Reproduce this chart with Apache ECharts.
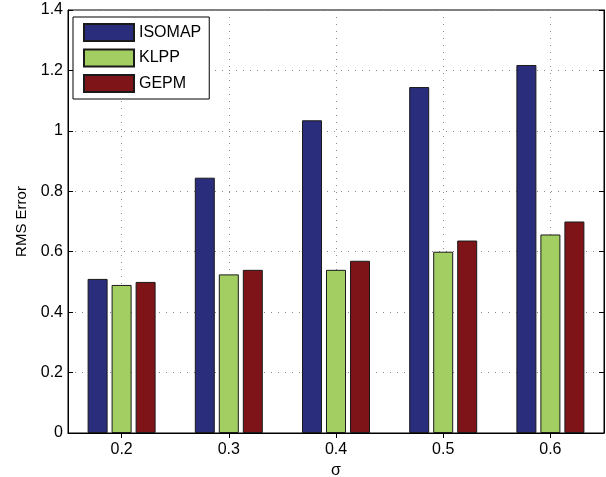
<!DOCTYPE html>
<html>
<head>
<meta charset="utf-8">
<script src="https://cdn.jsdelivr.net/npm/echarts@6/dist/echarts.min.js"></script>
<style>
  html, body { margin: 0; padding: 0; background: #fff; }
  #chart { width: 606px; height: 477px; }
</style>
</head>
<body>
<div id="chart"></div>
<script>
// Noise levels along the x axis
const sigmaLabels = ['0.2', '0.3', '0.4', '0.5', '0.6'];

// RMS error of each embedding method
const isomap = [0.51, 0.845, 1.035, 1.145, 1.218];
const klpp   = [0.49, 0.525, 0.54, 0.60, 0.657];
const gepm   = [0.50, 0.54, 0.57, 0.637, 0.70];

const FONT = 'Liberation Sans, Arial, Helvetica, sans-serif';
const gridDots = { color: '#8a8a8a', width: 1, type: [1, 6] };

// Top axis: half-step positions so ticks/grid land on category centres
const halfSteps = [];
for (let i = 0; i <= sigmaLabels.length * 2; i++) halfSteps.push('');
const atCentre = (idx) => idx % 2 === 1;

const barStyle = (color) => ({ color: color, borderColor: '#1a1a1a', borderWidth: 1 });

const chart = echarts.init(document.getElementById('chart'), null, { renderer: 'canvas' });
chart.setOption({
  animation: false,
  backgroundColor: '#fff',
  textStyle: { fontFamily: FONT },
  grid: {
    left: 68, right: 2, top: 10, bottom: 44,
    outerBoundsMode: 'none',
    containLabel: false,
    show: true, borderColor: '#000', borderWidth: 1, backgroundColor: 'transparent'
  },
  legend: {
    orient: 'vertical',
    left: 73, top: 17,
    itemWidth: 50, itemHeight: 17, itemGap: 6.5,
    padding: [6, 8, 6, 10],
    backgroundColor: '#fff',
    borderColor: '#000', borderWidth: 1,
    textStyle: { fontFamily: FONT, fontSize: 16, color: '#000' },
    icon: 'rect',
    data: ['ISOMAP', 'KLPP', 'GEPM']
  },
  xAxis: [
    {
      type: 'category',
      data: sigmaLabels,
      position: 'bottom',
      name: 'σ',
      nameLocation: 'middle',
      nameGap: 24,
      nameTextStyle: { fontFamily: FONT, fontSize: 16, color: '#000' },
      axisLine: { lineStyle: { color: '#000', width: 1 } },
      axisTick: { show: false },
      axisLabel: { fontFamily: FONT, fontSize: 16, color: '#000', margin: 9 },
      splitLine: { show: false }
    },
    {
      type: 'category',
      data: halfSteps,
      position: 'top',
      boundaryGap: false,
      axisLine: { show: false },
      axisTick: { show: true, inside: true, length: 5, interval: atCentre, lineStyle: { color: '#000' } },
      axisLabel: { show: false },
      splitLine: { show: true, interval: atCentre, lineStyle: gridDots }
    },
    {
      type: 'category',
      data: halfSteps,
      position: 'bottom',
      boundaryGap: false,
      axisLine: { show: false },
      axisTick: { show: true, inside: true, length: 5, interval: atCentre, lineStyle: { color: '#000' } },
      axisLabel: { show: false },
      splitLine: { show: false }
    }
  ],
  yAxis: [
    {
      type: 'value',
      min: 0, max: 1.4, interval: 0.2,
      position: 'left',
      name: 'RMS Error',
      nameLocation: 'middle',
      nameGap: 31,
      nameTextStyle: { fontFamily: FONT, fontSize: 15, color: '#000' },
      axisLine: { show: true, lineStyle: { color: '#000', width: 1 } },
      axisTick: { show: true, inside: true, length: 5, lineStyle: { color: '#000' } },
      axisLabel: { fontFamily: FONT, fontSize: 16, color: '#000', margin: 5 },
      splitLine: { show: true, lineStyle: gridDots }
    },
    {
      type: 'value',
      min: 0, max: 1.4, interval: 0.2,
      position: 'right',
      axisLine: { show: true, lineStyle: { color: '#000', width: 1 } },
      axisTick: { show: true, inside: true, length: 5, lineStyle: { color: '#000' } },
      axisLabel: { show: false },
      splitLine: { show: false }
    }
  ],
  series: [
    { name: 'ISOMAP', type: 'bar', data: isomap, barWidth: 20, barGap: '20%', itemStyle: barStyle('#2a2c7c') },
    { name: 'KLPP',   type: 'bar', data: klpp,   barWidth: 20, barGap: '20%', itemStyle: barStyle('#a3cf62') },
    { name: 'GEPM',   type: 'bar', data: gepm,   barWidth: 20, barGap: '20%', itemStyle: barStyle('#7e1418') }
  ]
});
</script>
</body>
</html>
